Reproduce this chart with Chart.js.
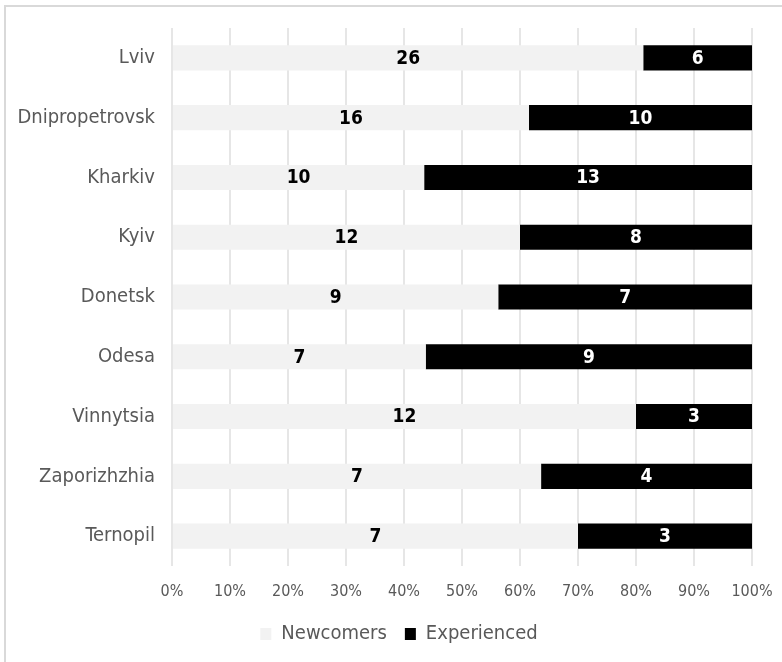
<!DOCTYPE html>
<html>
<head>
<meta charset="utf-8">
<script src="https://cdn.jsdelivr.net/npm/chart.js@4"></script>
<style>
  html, body { margin: 0; padding: 0; background: #fff; }
  #wrap { width: 782px; height: 662px; }
</style>
</head>
<body>
<div id="wrap"><canvas id="myChart" width="782" height="662"></canvas></div>
<script>
var regions = ["Lviv", "Dnipropetrovsk", "Kharkiv", "Kyiv", "Donetsk", "Odesa", "Vinnytsia", "Zaporizhzhia", "Ternopil"];
var newcomers = [26, 16, 10, 12, 9, 7, 12, 7, 7];
var experienced = [6, 10, 13, 8, 7, 9, 3, 4, 3];

// share of each row in percent, bars are drawn from these
function share(arr, i) {
  return arr[i] / (newcomers[i] + experienced[i]) * 100;
}
var newPct = regions.map(function(r, i) { return share(newcomers, i); });
var expPct = regions.map(function(r, i) { return share(experienced, i); });

var FONT = "'DejaVu Sans Condensed', 'DejaVu Sans', sans-serif";
var GREY = "#595959";

// frame round the chart, legend nudged to the right like the original
var framePlugin = {
  id: 'frame',
  afterLayout: function(chart) {
    chart.legend.left += 23;
    chart.legend.right += 23;
  },
  beforeDraw: function(chart) {
    var ctx = chart.ctx;
    ctx.save();
    ctx.fillStyle = '#fff';
    ctx.fillRect(0, 0, chart.width, chart.height);
    ctx.strokeStyle = '#d9d9d9';
    ctx.lineWidth = 2;
    ctx.strokeRect(5, 6, chart.width + 10, chart.height + 10);
    ctx.restore();
  }
};

// raw counts written in the middle of each segment
var countLabels = {
  id: 'countLabels',
  afterDatasetsDraw: function(chart) {
    var ctx = chart.ctx;
    ctx.save();
    ctx.font = "bold 19px " + FONT;
    ctx.textAlign = 'center';
    ctx.textBaseline = 'middle';
    chart.data.datasets.forEach(function(ds, di) {
      var meta = chart.getDatasetMeta(di);
      meta.data.forEach(function(bar, i) {
        ctx.fillStyle = di === 0 ? '#000' : '#fff';
        ctx.fillText(ds.counts[i], (bar.x + bar.base) / 2, bar.y + 1);
      });
    });
    ctx.restore();
  }
};

new Chart("myChart", {
  type: "bar",
  data: {
    labels: regions,
    datasets: [
      {
        label: "Newcomers",
        data: newPct,
        counts: newcomers,
        backgroundColor: "#f2f2f2",
        barPercentage: 0.42,
        categoryPercentage: 1
      },
      {
        label: "Experienced",
        data: expPct,
        counts: experienced,
        backgroundColor: "#000000",
        barPercentage: 0.42,
        categoryPercentage: 1
      }
    ]
  },
  options: {
    indexAxis: 'y',
    responsive: false,
    animation: false,
    layout: {
      padding: { left: 0, right: 30, top: 28, bottom: 8 }
    },
    plugins: {
      legend: {
        position: 'bottom',
        labels: {
          color: GREY,
          font: { family: FONT, size: 20 },
          boxWidth: 11,
          boxHeight: 12,
          padding: 18
        }
      },
      tooltip: { enabled: false }
    },
    scales: {
      x: {
        stacked: true,
        min: 0,
        max: 100,
        grid: { color: '#e6e6e6', lineWidth: 2, drawTicks: false },
        border: { display: false },
        ticks: {
          stepSize: 10,
          color: GREY,
          padding: 16,
          font: { family: FONT, size: 16 },
          callback: function(v) { return v + '%'; }
        },
        afterFit: function(axis) {
          axis.height = 40;
          axis.paddingRight = 0;
          axis.paddingLeft = 0;
        }
      },
      y: {
        stacked: true,
        grid: { display: false },
        border: { display: false },
        ticks: {
          color: GREY,
          padding: 9,
          font: { family: FONT, size: 20 }
        },
        afterFit: function(axis) { axis.width = 172; }
      }
    }
  },
  plugins: [framePlugin, countLabels]
});
</script>
</body>
</html>
